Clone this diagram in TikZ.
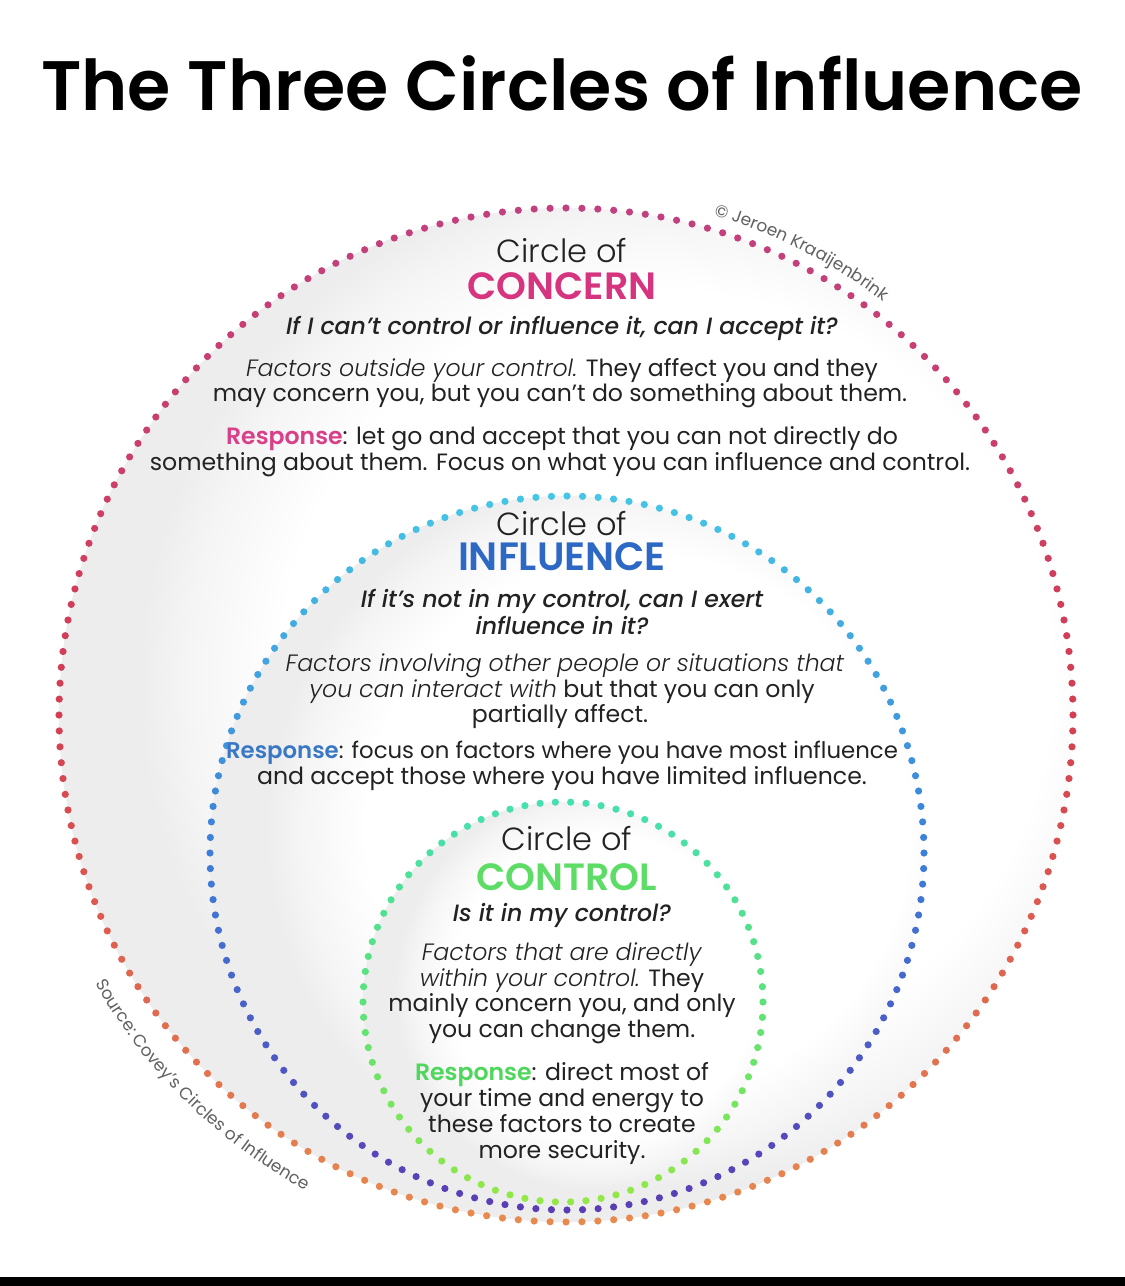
\documentclass[tikz,border=0pt]{standalone}
\usepackage{fontspec}
\usetikzlibrary{decorations.text}
\setmainfont{Poppins}
\newfontfamily\fTitle{Poppins SemiBold}
\newfontfamily\fHead{Poppins SemiBold}
\newfontfamily\fCirc{Poppins Light}
\newfontfamily\fQ{Poppins Medium Italic}
\newfontfamily\fBody{Poppins}[ItalicFont={Poppins Light Italic}, BoldFont={Poppins SemiBold}]
\newfontfamily\fSmall{Poppins}

\definecolor{ink}{HTML}{222222}
\definecolor{cpink}{HTML}{D6347F}
\definecolor{cblue}{HTML}{2D69C4}
\definecolor{cgreen}{HTML}{5EDD66}
\definecolor{rpink}{HTML}{D8418A}
\definecolor{rblue}{HTML}{3A78C6}
\definecolor{rgreen}{HTML}{4FD65C}
% dot colours
\definecolor{oTop}{HTML}{C2407F}
\definecolor{oMid}{HTML}{D43E52}
\definecolor{oBot}{HTML}{E88A4E}
\definecolor{iTop}{HTML}{45C6E6}
\definecolor{iMid}{HTML}{3C7ED9}
\definecolor{iBot}{HTML}{5A3DB5}
\definecolor{gTop}{HTML}{45E0B0}
\definecolor{gMid}{HTML}{5BE27A}
\definecolor{gBot}{HTML}{92E845}

\pgfdeclareradialshading{softfill}{\pgfpoint{8bp}{3bp}}{color(0bp)=(white); color(19bp)=(white); color(23bp)=(black!4); color(25bp)=(black!7); color(50bp)=(black!7)}

\newcommand\dotring[7]{%
  \pgfmathsetmacro\stepang{360/#4}%
  \foreach \i in {1,...,#4}{%
    \pgfmathsetmacro\ang{\i*\stepang}%
    \pgfmathsetmacro\tval{(1+sin(\ang))/2}%
    \pgfmathsetmacro\pA{min(\tval*2,1)*100}%
    \pgfmathsetmacro\pB{max(\tval*2-1,0)*100}%
    \colorlet{tmpc}{#6!\pA!#5}%
    \colorlet{dotc}{#7!\pB!tmpc}%
    \fill[dotc] ({#1+#3*cos(\ang)},{#2+#3*sin(\ang)}) circle[radius=3.6];
  }%
}

\begin{document}
\begin{tikzpicture}[x=1pt,y=-1pt,
  txt/.style={anchor=base, inner sep=0pt, text=ink},
  body/.style={txt, font=\fBody\fontsize{23.6}{23.6}\selectfont},
  ques/.style={txt, font=\fQ\fontsize{23.6}{23.6}\selectfont},
  circ/.style={txt, font=\fCirc\fontsize{32}{32}\selectfont},
  head/.style={txt, font=\fHead\fontsize{38}{38}\selectfont}]
\useasboundingbox (0,0) rectangle (1125,1286);
\fill[white] (0,0) rectangle (1125,1286);
\fill[black] (0,1277) rectangle (1125,1286);

% circles
\shade[shading=softfill] (566,715) circle[radius=507];
\dotring{566}{715}{507}{200}{oTop}{oMid}{oBot}
\shade[shading=softfill] (567,853) circle[radius=357];
\dotring{567}{853}{357}{144}{iTop}{iMid}{iBot}
\shade[shading=softfill] (563,1002) circle[radius=200];
\dotring{563}{1002}{200}{82}{gTop}{gMid}{gBot}

% curved credits
\path[decorate, decoration={text along path, text align=center, text color=black!62,
  text={|\fSmall\fontsize{17}{17}\selectfont|© Jeroen Kraaijenbrink}}]
  (566,715) ++(-80:521) arc[start angle=-80, end angle=-46, radius=521];
\path[decorate, decoration={text along path, text align=center, text color=black!62,
  text={|\fSmall\fontsize{17}{17}\selectfont|Source: Covey’s Circles of Influence}}]
  (566,715) ++(155:542) arc[start angle=155, end angle=114, radius=542];

% title
\node[txt, text=black, font=\fTitle\fontsize{70}{70}\selectfont] (title) at (562,110) {The Three Circles of Influence};

% concern
\node[circ] (c1) at (562,262) {Circle of};
\node[head, text=cpink] (c2) at (562,299) {CONCERN};
\node[ques] (c3) at (562,334) {If I can’t control or influence it, can I accept it?};
\node[body] (c4) at (562,376) {\textit{Factors outside your control.} They affect you and they};
\node[body] (c5) at (560,401) {may concern you, but you can’t do something about them.};
\node[body] (c6) at (562,444) {\textbf{\color{rpink}Response}: let go and accept that you can not directly do};
\node[body] (c7) at (560,470) {something about them. Focus on what you can influence and control.};

% influence
\node[circ] (i1) at (562,535) {Circle of};
\node[head, text=cblue, font=\fHead\fontsize{39.5}{39.5}\selectfont] (i2) at (562,570) {INFLUENCE};
\node[ques] (i3) at (562,607) {If it’s not in my control, can I exert};
\node[ques] (i4) at (562,634) {influence in it?};
\node[body] (i5) at (565,671) {\textit{Factors involving other people or situations that}};
\node[body] (i6) at (562,697) {\textit{you can interact with} but that you can only};
\node[body] (i7) at (560,722) {partially affect.};
\node[body, font=\fBody\fontsize{22.8}{22.8}\selectfont] (i8) at (562,758) {\textbf{\color{rblue}Response}: focus on factors where you have most influence};
\node[body] (i9) at (562,784) {and accept those where you have limited influence.};

% control
\node[circ] (k1) at (567,850) {Circle of};
\node[head, text=cgreen] (k2) at (567,890) {CONTROL};
\node[ques] (k3) at (562,921) {Is it in my control?};
\node[body] (k4) at (562,960) {\textit{Factors that are directly}};
\node[body] (k5) at (562,986) {\textit{within your control.} They};
\node[body] (k6) at (562,1011) {mainly concern you, and only};
\node[body] (k7) at (562,1037) {you can change them.};
\node[body] (k8) at (562,1080) {\textbf{\color{rgreen}Response}: direct most of};
\node[body] (k9) at (562,1106) {your time and energy to};
\node[body] (k10) at (562,1132) {these factors to create};
\node[body] (k11) at (562,1158) {more security.};
\end{tikzpicture}
\end{document}
